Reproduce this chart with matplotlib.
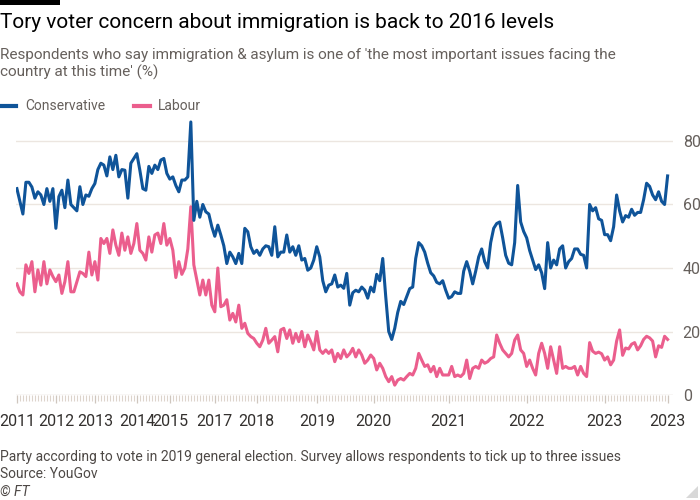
import numpy as np
import matplotlib
matplotlib.use("Agg")
import matplotlib.pyplot as plt
from matplotlib.lines import Line2D
from matplotlib.patches import Rectangle, Polygon

plt.rcParams['font.family'] = ['Roboto', 'DejaVu Sans']

# ---- data (survey waves, evenly spaced) ----
conservative = [
    65, 61, 57, 67, 67, 65.5, 62, 64, 63, 60,
    65, 61, 65, 52.5, 62.5, 64.5, 59, 67.7, 60, 59,
    58, 65.6, 60, 63, 62.6, 65, 66.6, 71, 73, 72.4,
    69, 75, 71, 75.5, 68.7, 71, 70.8, 62, 73, 74.5,
    76, 70.8, 65, 64.5, 72, 69.8, 72.4, 71, 74, 74.5,
    69.8, 68, 68.7, 66, 64, 67.7, 67.7, 68.7, 86, 55,
    61, 56, 60, 57.7, 57, 53, 50, 53.5, 50.4, 47,
    41.4, 45, 43.5, 41.4, 44.6, 41.4, 52.5, 51.4, 46.7, 44.6,
    45.6, 44, 46, 47, 46.7, 44, 53, 43.5, 45, 45,
    50.4, 45, 46.7, 44, 47, 42.5, 43, 39.3, 40, 42.5,
    46.7, 43.5, 36, 32.5, 34.6, 35, 37.8, 34, 34.6, 33.6, 38.3, 28.3,
    32.2, 33, 32.5, 34, 33, 30.5, 34, 32.5, 38, 36,
    43, 31, 20, 17.5, 21, 26, 29.5, 28.5, 31, 33.5,
    34, 43, 48, 47, 45, 41.5, 38.5, 37.5, 35.5, 35,
    36, 33, 30.5, 31, 32.5, 32, 32, 39, 42, 39,
    35, 39, 43.5, 46, 42, 40, 48, 52.5, 54, 54.5,
    49.5, 44, 41.5, 41, 48, 66, 54.5, 51.5, 49.5, 45.5,
    42.5, 39.5, 41, 38.5, 33.5, 48, 40, 42.5, 41, 46,
    47, 40, 42, 43, 46, 46, 44.3, 44, 40, 60,
    58, 59, 55.5, 55, 50.5, 50.5, 48.6, 53, 63, 58,
    54.5, 56.5, 56, 58.5, 56.6, 57.5, 57.5, 61.5, 66.7, 65.7,
    63, 61.5, 64, 61, 60, 69,
]
labour = [
    35, 32.5, 31.5, 41, 38.3, 42, 32.5, 39.4, 34.6, 42,
    35, 39.4, 37.3, 35.7, 37.8, 32, 35.7, 42, 32.5, 32.5,
    35.7, 38.8, 38.3, 37.3, 45, 37.8, 42, 36.2, 49.3, 47.7,
    49.3, 44.6, 52, 47.2, 44, 51, 45.6, 49.8, 44.6, 47.7,
    54, 45.6, 44.6, 42.5, 49.8, 45, 50.4, 51, 47.7, 54,
    47.2, 49.3, 45.6, 37, 42, 38, 40, 46, 59.3, 41,
    36.2, 31.5, 36.2, 31.5, 36.2, 28.3, 26.2, 40, 27.8, 28.3,
    30, 23.6, 25.7, 23, 28.3, 21, 22.6, 19.4, 18.4, 17.8,
    16.3, 15.2, 17.3, 21, 16.3, 17.3, 18.4, 13.6, 20.5, 21,
    17.8, 20.5, 16.3, 19.4, 16.8, 20, 15.2, 18.9, 16.8, 14.2,
    20, 14.2, 13.1, 14.2, 13.1, 14.2, 10.5, 13.1, 11.5, 14.2, 12, 13,
    14.7, 12, 14.2, 12.6, 10, 11, 12.6, 11.5, 7.9, 10,
    8.4, 5.8, 4.2, 5.8, 3.1, 4.7, 5.2, 4.7, 5.8, 6.8,
    6.3, 8.4, 13.1, 11, 9, 9.5, 7.3, 9, 5.8, 8.4,
    6.3, 6.3, 6.3, 9, 5.8, 6.3, 5.8, 6.8, 11, 5.2,
    8.4, 9, 8.4, 11, 10, 10.5, 11.5, 12, 18.9, 16.3,
    14.2, 13.1, 12, 13.1, 17.3, 18.9, 14.2, 13.1, 9, 11,
    8.4, 6.3, 13.1, 16.3, 13.1, 8.4, 15.2, 11, 6.8, 15.2,
    8.4, 9, 8.4, 8.4, 9, 6.3, 9, 6.8,
    5.8, 16.5, 13.8, 13.1, 13.5, 13, 11, 12, 9.5, 11,
    17, 20.5, 12.5, 14.8, 14.5, 16, 16.5, 14.2, 15.5, 17.5,
    18.5, 18, 17, 12, 15.5, 15, 18.5, 17.5,
]
tick_wave = [0, 13, 26, 40, 51, 66, 80, 100, 119, 144, 170, 196, 217]
tick_labels = ['2011', '2012', '2013', '2014', '2015', '2017', '2018',
               '2019', '2020', '2021', '2022', '2023', '2023']
y_ticks = [0, 20, 40, 60, 80]

BLUE = '#0f5499'
PINK = '#eb5e8d'
GREY = '#66605c'
DARK = '#33302e'

W, H = 700, 500
fig = plt.figure(figsize=(7, 5), dpi=100)
fig.patch.set_facecolor('white')

def fx(px):
    return px / W

def fy(py):
    return 1 - py / H

ax = fig.add_axes([fx(16), fy(395), fx(673) - fx(16), fy(115.6) - fy(395)])
ax.set_facecolor('white')

n = len(conservative)
x = np.arange(n)
xl = np.arange(len(labour))

ax.set_xlim(-0.3, 218.8)
ax.set_ylim(0, 88)

for v in y_ticks[1:]:
    ax.axhline(v, color='#ece6e0', lw=1.0, zorder=0)
ax.axhline(0, color='#ddd5ce', lw=1.0, zorder=1)

ax.plot(xl, labour, color=PINK, lw=2.2, solid_joinstyle='round', zorder=3)
ax.plot(x, conservative, color=BLUE, lw=2.2, solid_joinstyle='round', zorder=4)

for s in ax.spines.values():
    s.set_visible(False)

ax.yaxis.tick_right()
ax.set_yticks(y_ticks)
ax.set_yticklabels([str(v) for v in y_ticks])
ax.tick_params(axis='y', length=0, pad=7, labelsize=11.5, labelcolor=GREY)

ax.set_xticks(tick_wave)
ax.set_xticklabels(tick_labels)
ax.set_xticks(x, minor=True)
ax.tick_params(axis='x', which='major', length=6, width=0.9, color='#cfc6be',
               pad=8, labelsize=11.5, labelcolor=DARK)
ax.tick_params(axis='x', which='minor', length=4.5, width=0.8, color='#ddd4cc')

# header
fig.add_artist(Rectangle((0, fy(5)), fx(60), 5 / H, transform=fig.transFigure,
                         color='black', lw=0))
fig.text(0, fy(22), 'Tory voter concern about immigration is back to 2016 levels',
         fontsize=15, color='black', va='center', ha='left')
fig.text(0, fy(48),
         "Respondents who say immigration & asylum is one of 'the most important issues facing the\n"
         "country at this time' (%)",
         fontsize=11, color=GREY, va='top', ha='left', linespacing=1.25)

# legend
fig.add_artist(Line2D([fx(0), fx(16)], [fy(106), fy(106)], color=BLUE, lw=3,
                      transform=fig.transFigure))
fig.text(fx(25), fy(106), 'Conservative', fontsize=10, color=GREY, va='center')
fig.add_artist(Line2D([fx(134), fx(150)], [fy(106), fy(106)], color=PINK, lw=3,
                      transform=fig.transFigure))
fig.text(fx(158), fy(106), 'Labour', fontsize=10, color=GREY, va='center')

# footer
fig.text(0, fy(457), 'Party according to vote in 2019 general election. '
         'Survey allows respondents to tick up to three issues',
         fontsize=10, color='#4d4845', va='center')
fig.text(0, fy(474), 'Source: YouGov', fontsize=10, color='#4d4845', va='center')
fig.text(0, fy(492), '© FT', fontsize=10, color='#4d4845', va='center', style='italic')

fig.add_artist(Polygon([[fx(698), fy(486)], [fx(698), fy(498)], [fx(686), fy(498)]],
                       closed=True, transform=fig.transFigure, color='#d8d8d8', lw=0))

fig.savefig('out.png', dpi=100, facecolor='white')
